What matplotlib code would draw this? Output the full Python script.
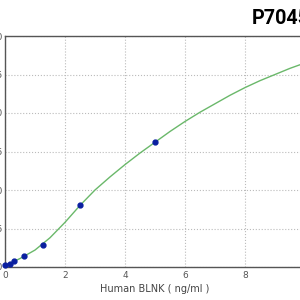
import matplotlib
matplotlib.use("Agg")
import matplotlib.pyplot as plt

# standard points
conc = [0, 0.156, 0.3125, 0.625, 1.25, 2.5, 5]
od = [0.02, 0.04, 0.074, 0.14, 0.29, 0.80, 1.62]

# fitted curve
curve_x = [0, 0.5, 1, 1.5, 2, 2.5, 3, 3.5, 4, 4.5, 5, 5.5, 6, 6.5, 7, 7.5, 8, 8.5, 9, 9.5, 10]
curve_y = [0.02, 0.11, 0.22, 0.38, 0.58, 0.80, 1.00, 1.17, 1.33, 1.48, 1.62, 1.76, 1.89,
           2.01, 2.12, 2.23, 2.33, 2.42, 2.50, 2.58, 2.65]

xticks = [0, 2, 4, 6, 8, 10]
yticks = [0.0, 0.5, 1.0, 1.5, 2.0, 2.5, 3.0]

fig = plt.figure(figsize=(3, 3), dpi=100)
ax = fig.add_axes([5 / 300, 33 / 300, 1.0, 231 / 300])

ax.plot(curve_x, curve_y, color='#6ab86a', lw=1.0, zorder=2)
ax.plot(conc, od, 'o', color='#0a1fa0', ms=3.5, zorder=3, clip_on=False)

ax.set_xlim(0, 10)
ax.set_ylim(0, 3.0)
ax.set_xticks(xticks)
ax.set_yticks(yticks)
ax.set_yticklabels([f'{v:.1f}' for v in yticks])
ax.grid(True, linestyle=':', color='#bbbbbb', lw=0.8)
ax.tick_params(labelsize=6.5, colors='#555555', length=0, pad=3)
ax.tick_params(axis='y', pad=1.5)
for s in ax.spines.values():
    s.set_color('#555555')
    s.set_linewidth(1.0)

ax.set_xlabel('Human BLNK ( ng/ml )', fontsize=7, color='#444444', labelpad=3)

fig.text(252 / 300, 1 - 18.5 / 300, 'P70456', fontsize=14.2, fontweight='bold',
         family=['Roboto', 'DejaVu Sans'], ha='left', va='center', color='#000000')

fig.savefig('out.png', dpi=100)
